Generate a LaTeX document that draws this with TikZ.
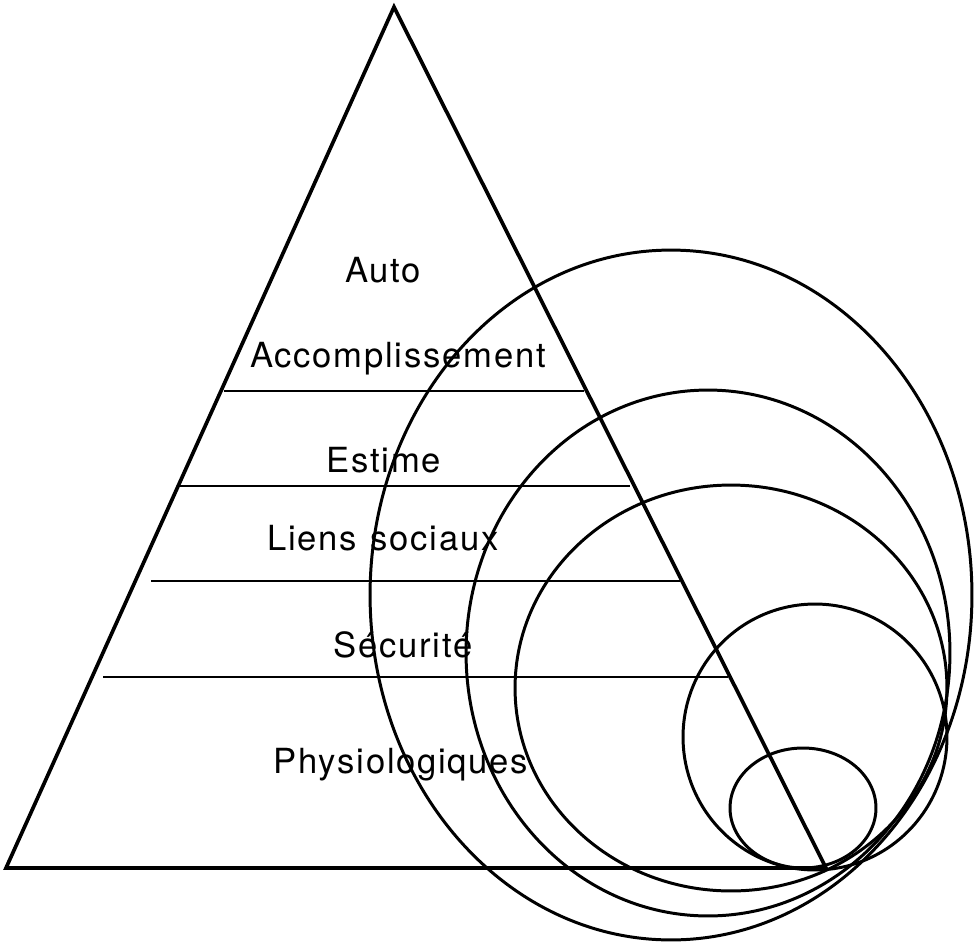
\documentclass[tikz,border=0pt]{standalone}
\usepackage{fontspec}
\setmainfont{TeX Gyre Heros}[LetterSpace=5]
\begin{document}
\begin{tikzpicture}[x=0.02cm,y=-0.02cm,
  tri/.style={line width=2.1pt,line join=miter},
  level/.style={line width=1.4pt},
  ring/.style={line width=1.7pt},
  lbl/.style={anchor=base,inner sep=0pt,font=\fontsize{19.7}{24}\selectfont}]
\useasboundingbox (0,0) rectangle (980,943);
\coordinate (apex) at (394,7);
\coordinate (bl) at (6,868);
\coordinate (br) at (826,868);
\draw[tri] (apex) -- (br) -- (bl) -- cycle;
% levels
\coordinate (l1a) at (224,391); \coordinate (l1b) at (584,391);
\coordinate (l2a) at (177,486); \coordinate (l2b) at (630,486);
\coordinate (l3a) at (151,581); \coordinate (l3b) at (680,581);
\coordinate (l4a) at (103,677); \coordinate (l4b) at (728,677);
\draw[level] (l1a) -- (l1b);
\draw[level] (l2a) -- (l2b);
\draw[level] (l3a) -- (l3b);
\draw[level] (l4a) -- (l4b);
% ellipses
\draw[ring] (671,595) ellipse [x radius=6.02cm, y radius=6.9cm];
\draw[ring] (708,653) ellipse [x radius=4.84cm, y radius=5.26cm];
\draw[ring] (731,688) ellipse [x radius=4.32cm, y radius=4.06cm];
\draw[ring] (815,737) ellipse [x radius=2.64cm, y radius=2.66cm];
\draw[ring] (803,808) ellipse [x radius=1.46cm, y radius=1.2cm];
% labels
\node[lbl] (auto) at (383,282) {Auto};
\node[lbl] (acc) at (398,367) {Accomplissement};
\node[lbl] (est) at (384,472) {Estime};
\node[lbl] (lien) at (383,550) {Liens\hspace{0.4em}sociaux};
\node[lbl] (sec) at (403,657) {Sécurité};
\node[lbl] (phy) at (401,773) {Physiologiques};
\end{tikzpicture}
\end{document}
